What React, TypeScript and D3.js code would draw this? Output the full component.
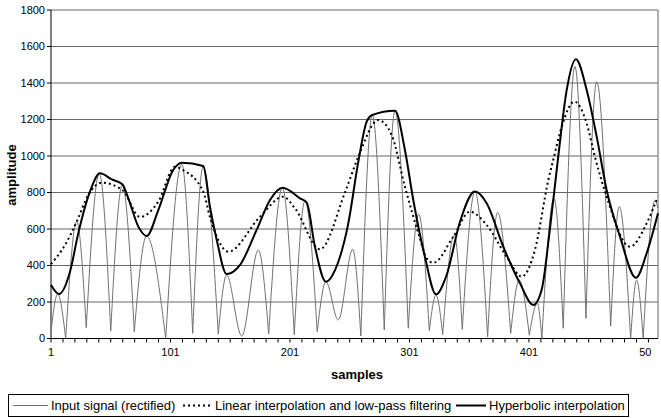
import * as d3 from 'd3';

// Chart values: [sample, amplitude]
const inputSignal: [number, number][] = [
  [1, 40], [6.6, 244], [13.3, 0], [22.5, 640], [30.5, 59], [41.4, 905], [51, 41], [60.7, 841],
  [70.7, 37], [81, 562], [97, 0], [110.4, 955], [119.6, 28], [128.4, 945], [141, 25], [148, 348],
  [160.6, 14], [174.5, 485], [183.2, 25], [194.6, 826], [204.6, 20], [213.6, 755], [223.8, 37],
  [231.1, 311], [241.4, 101], [253.5, 489], [260.3, 14], [269.9, 1225], [279.9, 47], [288.9, 1248],
  [300, 56], [308.7, 680], [317.6, 43], [323.2, 238], [328.8, 21], [338.5, 567], [345.2, 50],
  [355.8, 805], [366.4, 10], [374.8, 690], [385.7, 28], [392.9, 320], [401.3, 18], [408, 193],
  [411.8, 0], [421.9, 768], [429.7, 56], [439.5, 1490], [448.7, 110], [457.7, 1407], [469.4, 68],
  [476.6, 722], [486.1, 0], [491.1, 320], [496.6, 0], [506.4, 755], [509, 715],
];
// minima of the input signal that are rounded rather than sharp
const roundMinima = [160.6, 241.4];

const linearLowPass: [number, number][] = [
  [1, 408], [12.7, 512], [22.5, 640], [32.2, 786], [43.3, 854], [60.7, 814], [75.5, 666],
  [90.8, 750], [104.8, 941], [110.4, 927], [128.4, 805], [134, 667], [149.4, 476], [175.9, 667],
  [195.4, 777], [205.2, 713], [226.1, 489], [247, 800], [258.2, 996], [274.9, 1197], [286.1, 1115],
  [297.2, 832], [309, 565], [315.4, 439], [321, 415], [337.7, 558], [351.6, 695], [365.6, 622],
  [382.3, 448], [394.9, 339], [406, 485], [417.2, 868], [421.3, 978], [428.4, 1160], [439, 1298],
  [449.3, 1179], [456.2, 996], [466, 777], [485.5, 503], [499.5, 631], [507.8, 759],
];

const hyperbolic: [number, number][] = [
  [1, 293], [7.7, 244], [16.9, 366], [23.8, 576], [33.6, 805], [42, 905], [51.8, 872], [60.7, 845],
  [65.7, 768], [74.1, 613], [81.1, 562], [90.8, 704], [103.3, 923], [110.4, 963], [128.4, 945],
  [134, 722], [139.7, 540], [148, 353], [159.2, 403], [173.1, 595], [184.3, 759], [194.9, 826],
  [209.4, 768], [215, 744], [221.9, 503], [231.1, 311], [238.7, 375], [249.8, 631], [258.2, 969],
  [265.2, 1188], [269.9, 1225], [288.9, 1248], [297.2, 1033], [304.2, 759], [313.9, 448],
  [323.2, 242], [332.1, 348], [343.3, 640], [355.8, 805], [365.6, 741], [379.5, 503], [393.5, 302],
  [404.6, 184], [411.6, 266], [418.6, 604], [425.5, 996], [432.6, 1362], [440.3, 1530],
  [449.3, 1362], [457.7, 1106], [466, 814], [477.2, 558], [490.5, 333], [499.5, 467], [509, 686],
];

const yTicks = [0, 200, 400, 600, 800, 1000, 1200, 1400, 1600, 1800];
const xLabels = [1, 101, 201, 301, 401, 501];

const FONT = '"Liberation Sans", Arial, sans-serif';

const App = () => {
  const width = 661;
  const height = 418;
  const left = 51;
  const right = 658;
  const top = 10;
  const bottom = 338.5;

  const x = d3.scaleLinear().domain([1, 509]).range([left, right]);
  const y = d3.scaleLinear().domain([0, 1800]).range([bottom, top]);

  const line = d3.line<[number, number]>()
    .x(d => x(d[0]))
    .y(d => y(d[1]))
    .curve(d3.curveMonotoneX);

  // split the rectified signal into lobes at its sharp minima
  const lobes: [number, number][][] = [];
  let current: [number, number][] = [inputSignal[0]];
  for (let i = 1; i < inputSignal.length; i++) {
    const p = inputSignal[i];
    current.push(p);
    const prev = inputSignal[i - 1];
    const next = inputSignal[i + 1];
    const isMin = next && p[1] < prev[1] && p[1] < next[1];
    if (isMin && !roundMinima.includes(p[0])) {
      lobes.push(current);
      current = [p];
    }
  }
  lobes.push(current);
  const inputPath = lobes.map(l => line(l)).join('');

  const xTicks = d3.range(1, 510, 10);

  return (
    <div style={{ position: 'fixed', left: 0, top: 0 }}>
      <svg width={width} height={height} style={{ display: 'block', background: '#fff' }}>
        <defs>
          <clipPath id="edge">
            <rect x={0} y={0} width={652} height={height} />
          </clipPath>
        </defs>

        {/* gridlines */}
        {yTicks.map(t => (
          <line key={t} x1={left} x2={right} y1={y(t)} y2={y(t)} stroke="#666" strokeWidth={1} />
        ))}
        <line x1={right} x2={right} y1={top} y2={bottom} stroke="#666" strokeWidth={1} />

        {/* y axis */}
        <line x1={left} x2={left} y1={top} y2={bottom} stroke="#000" strokeWidth={1} />
        {yTicks.map(t => (
          <g key={t}>
            <line x1={left - 4} x2={left} y1={y(t)} y2={y(t)} stroke="#000" />
            <text x={left - 6} y={y(t)} dy="0.35em" textAnchor="end" fontSize={11} fontFamily={FONT} fill="#000">
              {t}
            </text>
          </g>
        ))}

        {/* x axis */}
        <line x1={left} x2={right} y1={bottom} y2={bottom} stroke="#000" strokeWidth={1} />
        {xTicks.map(t => (
          <line key={t} x1={x(t)} x2={x(t)} y1={bottom} y2={bottom + 4} stroke="#000" />
        ))}
        <g clipPath="url(#edge)">
          {xLabels.map(t => (
            <text key={t} x={x(t)} y={356} textAnchor="middle" fontSize={11} fontFamily={FONT} fill="#000">
              {t}
            </text>
          ))}
        </g>

        {/* series */}
        <path d={inputPath} fill="none" stroke="#707070" strokeWidth={1} />
        <path d={line(linearLowPass) || ''} fill="none" stroke="#000" strokeWidth={2} strokeDasharray="2 3" />
        <path d={line(hyperbolic) || ''} fill="none" stroke="#000" strokeWidth={2} />

        {/* axis titles */}
        <text x={357} y={379} textAnchor="middle" fontSize={13} fontWeight="bold" fontFamily={FONT}>
          samples
        </text>
        <text transform="translate(16,175) rotate(-90)" textAnchor="middle" fontSize={13} fontWeight="bold" fontFamily={FONT}>
          amplitude
        </text>

        {/* legend */}
        <rect x={8.5} y={394.5} width={620} height={22} fill="#fff" stroke="#000" />
        <line x1={13} x2={48} y1={405.5} y2={405.5} stroke="#707070" strokeWidth={1} />
        <text x={51} y={410} fontSize={13} fontFamily={FONT}>Input signal (rectified)</text>
        <line x1={183} x2={212} y1={405.5} y2={405.5} stroke="#000" strokeWidth={2} strokeDasharray="2 3" />
        <text x={215} y={410} fontSize={13} fontFamily={FONT}>Linear interpolation and low-pass filtering</text>
        <line x1={456} x2={486} y1={405.5} y2={405.5} stroke="#000" strokeWidth={2} />
        <text x={489} y={410} fontSize={13} fontFamily={FONT}>Hyperbolic interpolation</text>
      </svg>
    </div>
  );
};

export default App;
